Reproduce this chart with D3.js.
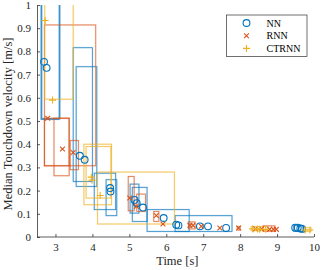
<!DOCTYPE html>
<html>
<head>
<meta charset="utf-8">
<script src="https://cdn.jsdelivr.net/npm/d3@7"></script>
<style>
  body { margin: 0; background: #fff; }
  svg text { font-family: 'Liberation Serif', 'DejaVu Serif', serif !important; }
</style>
</head>
<body>
<div id="viz-body"></div>
<script>
// series names and colours
const methods = ["NN", "RNN", "CTRNN"];
const colors = ["#0072BD", "#D95319", "#EDB120"];

// boxes: [t1, t2, v1, v2]
const boxesNN = [
    [2.61, 3.10, 0.507, 1.10], [2.63, 3.12, 0.510, 1.10],
    [3.48, 4.00, 0.239, 0.816], [3.56, 4.12, 0.218, 0.734],
    [4.05, 4.63, 0.118, 0.275], [4.37, 4.66, 0.092, 0.247],
    [5.02, 5.26, 0.103, 0.228], [5.08, 5.48, 0.067, 0.214],
    [5.48, 6.62, 0.024, 0.118], [6.24, 7.78, 0.024, 0.092],
    [9.45, 9.70, 0.025, 0.050]
];
const boxesRNN = [
    [2.70, 4.09, 0.307, 0.914], [2.70, 3.37, 0.307, 0.512],
    [2.96, 3.37, 0.264, 0.512], [3.40, 3.62, 0.290, 0.416],
    [4.97, 5.13, 0.113, 0.261], [5.20, 5.44, 0.110, 0.185],
    [5.66, 5.80, 0.067, 0.110], [6.60, 6.78, 0.035, 0.065],
    [7.92, 8.00, 0.030, 0.045], [8.62, 8.94, 0.025, 0.048]
];
const boxesCTRNN = [
    [2.71, 3.48, 0.594, 1.10], [3.77, 4.52, 0.139, 0.400],
    [3.83, 4.50, 0.168, 0.390], [4.14, 6.22, 0.056, 0.280],
    [8.30, 8.75, 0.027, 0.045], [9.72, 9.92, 0.024, 0.040]
];

// medians: [t, v]
const medNN = [
    [2.69, 0.755], [2.76, 0.729], [3.66, 0.350], [3.79, 0.333],
    [4.48, 0.211], [4.49, 0.196], [5.14, 0.160], [5.20, 0.146],
    [5.37, 0.127], [5.93, 0.082], [6.27, 0.053], [6.33, 0.050],
    [6.91, 0.046], [7.13, 0.046], [7.62, 0.039], [9.49, 0.040],
    [9.56, 0.040], [9.63, 0.037], [9.68, 0.035]
];
const medRNN = [
    [2.79, 0.512], [3.19, 0.379], [3.48, 0.364], [5.01, 0.168],
    [5.19, 0.132], [5.73, 0.093], [5.91, 0.056], [6.64, 0.050],
    [6.72, 0.050], [6.95, 0.046], [7.45, 0.039], [7.96, 0.039],
    [8.42, 0.035], [8.58, 0.035], [8.80, 0.033], [8.90, 0.033],
    [8.98, 0.033]
];
const medCTRNN = [
    [2.72, 0.933], [2.92, 0.590], [3.97, 0.258], [3.99, 0.245],
    [4.21, 0.179], [8.34, 0.035], [8.47, 0.035], [8.53, 0.033],
    [8.69, 0.033], [9.76, 0.030], [9.89, 0.030]
];

const xTicks = [3, 4, 5, 6, 7, 8, 9, 10];
const yTicks = [0, 0.1, 0.2, 0.3, 0.4, 0.5, 0.6, 0.7, 0.8, 0.9, 1];

const width = 324, height = 270;
const margin = { top: 5, right: 7, bottom: 33, left: 37 },
    mgw = width - margin.left - margin.right,
    mgh = height - margin.top - margin.bottom;

let x = d3.scaleLinear().domain([2.5, 10]).range([0, mgw - 3]);
let y = d3.scaleLinear().domain([0, 1]).range([mgh, 0]);

let svg = d3.select("#viz-body")
    .append("svg")
    .attr("width", width)
    .attr("height", height)
    .append("g")
    .attr("transform", "translate(" + margin.left + "," + margin.top + ")");

svg.append("clipPath").attr("id", "clip")
    .append("rect").attr("x", 0).attr("y", 0).attr("width", mgw).attr("height", mgh);

let plot = svg.append("g").attr("clip-path", "url(#clip)");

// boxes: faint halo, then thin line
let allBoxes = [boxesNN, boxesRNN, boxesCTRNN];
allBoxes.forEach(function (boxes, i) {
    let g = plot.append("g");
    boxes.forEach(function (b) {
        let rx = x(b[0]), ry = y(b[3]), rw = x(b[1]) - x(b[0]), rh = y(b[2]) - y(b[3]);
        g.append("rect")
            .attr("x", rx).attr("y", ry).attr("width", rw).attr("height", rh)
            .attr("fill", "none").attr("stroke", colors[i])
            .attr("stroke-width", 1.8).attr("stroke-opacity", 0.18);
        g.append("rect")
            .attr("x", rx).attr("y", ry).attr("width", rw).attr("height", rh)
            .attr("fill", "none").attr("stroke", colors[i])
            .attr("stroke-width", 0.8).attr("stroke-opacity", 0.75);
    });
});

// markers
function drawMarker(g, kind, cx, cy, col) {
    if (kind === 0) {
        g.append("circle").attr("cx", cx).attr("cy", cy).attr("r", 3.4)
            .attr("fill", "none").attr("stroke", col).attr("stroke-width", 1.1);
    } else if (kind === 1) {
        let s = 2.4;
        g.append("path")
            .attr("d", "M" + (cx - s) + "," + (cy - s) + "L" + (cx + s) + "," + (cy + s) +
                "M" + (cx - s) + "," + (cy + s) + "L" + (cx + s) + "," + (cy - s))
            .attr("stroke", col).attr("stroke-width", 1.1);
    } else {
        let s = 3.5;
        g.append("path")
            .attr("d", "M" + (cx - s) + "," + cy + "L" + (cx + s) + "," + cy +
                "M" + cx + "," + (cy - s) + "L" + cx + "," + (cy + s))
            .attr("stroke", col).attr("stroke-width", 1.1);
    }
}

let allMeds = [medNN, medRNN, medCTRNN];
allMeds.forEach(function (meds, i) {
    let g = svg.append("g");
    meds.forEach(function (d) {
        drawMarker(g, i, x(d[0]), y(d[1]), colors[i]);
    });
});

// axes, MATLAB style ticks pointing inward
let xAxis = svg.append("g")
    .attr("transform", "translate(0," + mgh + ")")
    .call(d3.axisBottom(x).tickValues(xTicks).tickSizeInner(-3).tickSizeOuter(0).tickPadding(6));
let yAxis = svg.append("g")
    .call(d3.axisLeft(y).tickValues(yTicks).tickSizeInner(-3).tickSizeOuter(0).tickPadding(6)
        .tickFormat(d3.format("")));

[xAxis, yAxis].forEach(function (a) {
    a.attr("font-family", null);
    a.select(".domain").attr("stroke", "#333").attr("stroke-width", 0.8);
    a.selectAll(".tick line").attr("stroke", "#333").attr("stroke-width", 0.8);
    a.selectAll(".tick text").attr("font-size", 11).attr("fill", "#262626");
});
// extend the x axis line to the plot's left edge
xAxis.select(".domain").attr("d", "M0,0H" + x(10));

// axis titles
svg.append("text")
    .attr("x", x(6.3)).attr("y", mgh + 28)
    .attr("text-anchor", "middle").attr("font-size", 12.5).attr("fill", "#262626")
    .text("Time [s]");
svg.append("text")
    .attr("transform", "translate(" + (-25) + "," + (mgh / 2 + 3) + ") rotate(-90)")
    .attr("text-anchor", "middle").attr("font-size", 12.5).attr("fill", "#262626")
    .text("Median Touchdown velocity [m/s]");

// legend
let legend = svg.append("g").attr("transform", "translate(" + (226.5 - margin.left) + "," + (15 - margin.top) + ")");
legend.append("rect").attr("width", 80.5).attr("height", 41.5)
    .attr("fill", "#fff").attr("stroke", "#333").attr("stroke-width", 0.7);
methods.forEach(function (m, i) {
    let ly = 8 + i * 12.7;
    drawMarker(legend, i, 20, ly, colors[i]);
    legend.append("text").attr("x", 40).attr("y", ly + 3.5)
        .attr("font-size", 10).attr("fill", "#000").text(m);
});
</script>
</body>
</html>
